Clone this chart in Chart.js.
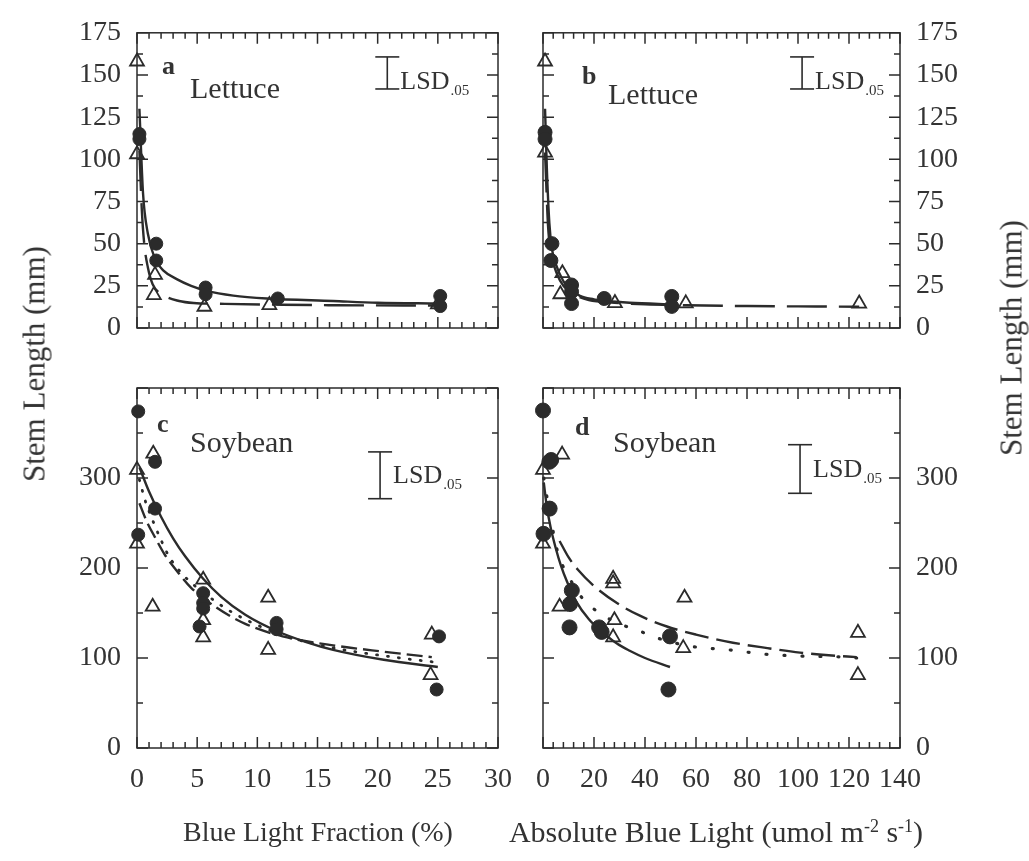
<!DOCTYPE html>
<html>
<head>
<meta charset="utf-8">
<title>Stem length vs blue light</title>
<script src="https://cdn.jsdelivr.net/npm/chart.js@4.4.1/dist/chart.umd.min.js"></script>
<style>
  body { margin: 0; background: #fff; }
  #wrap { position: relative; width: 1029px; height: 861px; overflow: hidden; background: #fff; }
  #wrap canvas { position: absolute; left: 0; top: 0; }
  .lbl { position: absolute; font-family: "Liberation Serif", serif; color: #333; white-space: nowrap; line-height: 1; }
  .rot { transform: translate(-50%, -50%) rotate(-90deg); font-size: 31px; }
  .hor { transform: translate(-50%, -50%); font-size: 28px; }
  sup { font-size: 60%; vertical-align: 0.55em; }
</style>
</head>
<body>
<div id="wrap">
  <canvas id="panelA" width="1029" height="861"></canvas>
  <canvas id="panelB" width="1029" height="861"></canvas>
  <canvas id="panelC" width="1029" height="861"></canvas>
  <canvas id="panelD" width="1029" height="861"></canvas>
  <div class="lbl rot" style="left:34px;top:364px">Stem Length (mm)</div>
  <div class="lbl rot" style="left:1011px;top:338px">Stem Length (mm)</div>
  <div class="lbl hor" style="left:318px;top:832px">Blue Light Fraction (%)</div>
  <div class="lbl hor" style="left:716px;top:832px;font-size:30px">Absolute Blue Light (umol m<sup>-2</sup> s<sup>-1</sup>)</div>
</div>
<script>
const INK = "#2b2b2b";
const TEXT = "#333";

// a: lettuce vs blue light fraction (%)
const letFracCircX = [0.2, 0.2, 1.6, 1.6, 5.7, 5.7, 11.7, 25.2, 25.2];
const letFracCircY = [115, 112, 50, 40, 24, 20, 17.5, 19, 13];
const letFracTriX = [0, 0, 1.5, 1.4, 5.6, 11, 25];
const letFracTriY = [158, 103, 31.5, 19.5, 12.6, 13.6, 14];
const letFracSolidX = [0.2, 0.5, 0.9, 1.5, 2.2, 3.3, 4.5, 5.8, 8, 10.8, 16.3, 20, 25];
const letFracSolidY = [130, 80, 56, 41, 34, 29, 25, 22, 19.2, 17.5, 16, 15, 14.5];
const letFracDashX = [0.2, 0.4, 0.6, 0.9, 1.3, 2.2, 3.5, 4.7, 7.3, 12, 16.5, 25];
const letFracDashY = [105, 70, 50, 36, 26, 19.5, 16, 14.8, 14.3, 13.8, 13.5, 13.3];

// b: lettuce vs absolute blue light
const letAbsCircX = [0.8, 0.8, 3.5, 3.1, 11.2, 11.2, 11.2, 24, 50.5, 50.5];
const letAbsCircY = [116, 112, 50, 40, 25.5, 21.5, 14.5, 17.5, 18.7, 12.8];
const letAbsTriX = [0.8, 0.8, 7.6, 6.8, 28.2, 56, 124];
const letAbsTriY = [158, 104, 32.5, 20, 14.8, 14.6, 14.5];
const letAbsSolidX = [0.8, 1.5, 2.5, 3.5, 5, 7.9, 10, 14.5, 20, 25, 34, 51];
const letAbsSolidY = [130, 95, 62, 47, 38, 28, 24, 19, 17, 16, 15, 14];
const letAbsDashX = [0.8, 2, 3.5, 5.5, 8, 12, 18, 28, 40, 56, 80, 100, 124];
const letAbsDashY = [104, 60, 42, 32, 25, 20, 16.5, 15, 14, 13.5, 13, 12.8, 12.6];

// c: soybean vs blue light fraction (%)
const soyFracCircX = [0.1, 1.5, 1.5, 0.1, 5.5, 5.5, 5.5, 5.2, 11.6, 11.6, 25.1, 24.9];
const soyFracCircY = [374, 318, 266, 237, 172, 161, 155, 135, 139, 132, 124, 65];
const soyFracTriX = [1.35, 0, 0, 1.3, 5.5, 5.5, 5.5, 10.9, 10.9, 24.5, 24.4];
const soyFracTriY = [327, 309, 227, 157, 187, 142, 123, 167, 109, 126, 81];
const soyFracSolidX = [0.2, 1, 2, 3, 4, 5.5, 7, 9, 11.6, 14, 16.3, 20.5, 25];
const soyFracSolidY = [312, 285, 257, 233, 213, 188, 168, 148, 130, 118, 109, 98, 90];
const soyFracDashX = [0.2, 0.8, 1.5, 2.3, 3.3, 4.5, 6.6, 9, 12.1, 16.3, 20.5, 24.5];
const soyFracDashY = [272, 252, 234, 215, 197, 178, 156, 138, 124, 114, 107, 101];
const soyFracDotX = [0.2, 0.7, 1.3, 2, 2.7, 4, 5.4, 8, 12, 16, 21.3, 25];
const soyFracDotY = [298, 274, 253, 231, 212, 190, 174, 150, 126, 112, 101, 95];

// d: soybean vs absolute blue light
const soyAbsCircX = [0, 2.5, 3.2, 2.6, 0.2, 11.3, 10.6, 10.4, 22, 23, 49.8, 49.2];
const soyAbsCircY = [375, 318, 320, 266, 238, 175, 160, 134, 134, 129, 124, 65];
const soyAbsTriX = [7.5, 0, 0, 6.5, 27.5, 27.5, 28, 27.5, 55.5, 55, 123.5, 123.5];
const soyAbsTriY = [326, 309, 227, 157, 188, 183, 142, 123, 167, 111, 128, 81];
const soyAbsSolidX = [0.3, 1.5, 3, 5, 7, 9.4, 13, 18, 22.4, 29, 34, 40, 49.8];
const soyAbsSolidY = [295, 268, 245, 222, 203, 185, 163, 143, 131, 116, 108, 100, 90];
const soyAbsDashX = [6.5, 10, 13.7, 20, 29, 38, 48.6, 60, 74.5, 88, 100.8, 112, 123];
const soyAbsDashY = [230, 212, 198, 180, 161, 147, 135, 126, 117, 111, 106, 103, 101];
const soyAbsDotX = [0.3, 3, 6, 9.4, 15, 21.6, 30, 37, 44, 58, 73, 88, 103, 119, 123];
const soyAbsDotY = [300, 255, 215, 194, 168, 151, 138, 131, 123, 113, 109, 104, 102, 101, 100];

// LSD(.05) bars: x position and the two ends
const lsdX = [20.8, 101.6, 20.2, 100.8];
const lsdLow = [141.7, 141.7, 277, 283];
const lsdHigh = [160.7, 160.7, 329, 337];

const pts = (xs, ys) => xs.map((x, i) => ({ x, y: ys[i] }));

Chart.defaults.font.family = "'Liberation Serif', 'Times New Roman', serif";
Chart.defaults.color = TEXT;

const isMajor = (v, step) => Math.abs(v / step - Math.round(v / step)) < 1e-6;

// box round each panel, inward ticks on all sides, panel texts
const framePlugin = {
  id: "frame",
  beforeDatasetsDraw(chart, args, o) {
    const { ctx, chartArea: a } = chart;
    const x = chart.scales.x, y = chart.scales.y;
    ctx.save();
    ctx.strokeStyle = INK;
    ctx.lineWidth = 1.5;
    ctx.strokeRect(a.left, a.top, a.right - a.left, a.bottom - a.top);
    ctx.beginPath();
    const xMajor = x.options.ticks.stepSize;
    for (let i = 0; x.min + i * o.xMinor <= x.max + 1e-9; i++) {
      const v = x.min + i * o.xMinor;
      const p = x.getPixelForValue(v);
      const len = isMajor(v, xMajor) ? 11 : 6;
      ctx.moveTo(p, a.bottom); ctx.lineTo(p, a.bottom - len);
      ctx.moveTo(p, a.top); ctx.lineTo(p, a.top + len);
    }
    const yMajor = y.options.ticks.stepSize;
    for (let i = 0; y.min + i * o.yMinor <= y.max + 1e-9; i++) {
      const v = y.min + i * o.yMinor;
      const p = y.getPixelForValue(v);
      const len = isMajor(v, yMajor) ? 11 : 6;
      ctx.moveTo(a.left, p); ctx.lineTo(a.left + len, p);
      ctx.moveTo(a.right, p); ctx.lineTo(a.right - len, p);
    }
    ctx.stroke();
    ctx.restore();
  },
  afterDraw(chart, args, o) {
    const { ctx, chartArea: a } = chart;
    ctx.save();
    ctx.fillStyle = TEXT;
    ctx.textBaseline = "alphabetic";
    ctx.font = "bold 26px 'Liberation Serif'";
    ctx.fillText(o.letter, a.left + o.letterAt[0], a.top + o.letterAt[1]);
    ctx.font = "30px 'Liberation Serif'";
    ctx.fillText(o.crop, a.left + o.cropAt[0], a.top + o.cropAt[1]);
    const idx = chart.data.datasets.findIndex(d => d.label === "LSD");
    const bar = chart.getDatasetMeta(idx).data;
    const lx = bar[0].x + 13;
    const ly = (bar[0].y + bar[1].y) / 2 + o.lsdDy;
    ctx.font = "26px 'Liberation Serif'";
    ctx.fillText("LSD", lx, ly);
    const w = ctx.measureText("LSD").width;
    ctx.font = "15px 'Liberation Serif'";
    ctx.fillText(".05", lx + w + 1, ly + 6);
    ctx.restore();
  }
};

function panelDatasets(circ, tri, r, curves, lsd) {
  const sets = [
    { data: circ, pointStyle: "circle", pointRadius: r, pointBackgroundColor: INK,
      pointBorderColor: INK, pointBorderWidth: 1, clip: false },
    { data: tri, pointStyle: "triangle", pointRadius: 8, pointBackgroundColor: "rgba(255,255,255,0)",
      pointBorderColor: INK, pointBorderWidth: 1.8, clip: false },
    { label: "LSD", data: lsd, showLine: true, borderColor: INK, borderWidth: 1.6,
      pointStyle: "line", pointRadius: 12, pointBorderColor: INK, pointBorderWidth: 1.6, clip: false }
  ];
  curves.forEach(c => sets.push({
    data: c.data, showLine: true, pointRadius: 0, borderColor: INK, borderWidth: c.width || 2.4,
    borderDash: c.dash || [], borderCapStyle: c.cap || "butt",
    cubicInterpolationMode: "monotone", clip: false
  }));
  return sets;
}

function makePanel(id, cfg) {
  const yScale = {
    type: "linear", position: cfg.yPos, min: 0, max: cfg.yMax,
    grid: { display: false, drawTicks: false }, border: { display: false },
    ticks: {
      stepSize: cfg.yStep, padding: 16, font: { size: 28 },
      callback: v => (v === cfg.yHide ? "" : v)
    },
    afterFit: s => { s.width = cfg.yPos === "left" ? 137 : 129; }
  };
  const xScale = {
    type: "linear", position: "bottom", min: 0, max: cfg.xMax, display: cfg.xShow,
    grid: { display: false, drawTicks: false }, border: { display: false },
    ticks: { stepSize: cfg.xStep, padding: 15, font: { size: 28 }, maxRotation: 0, autoSkip: false },
    afterFit: s => { s.height = 60; }
  };
  return new Chart(document.getElementById(id), {
    type: "scatter",
    data: { datasets: cfg.datasets },
    plugins: [framePlugin],
    options: {
      responsive: false,
      animation: false,
      layout: { padding: cfg.padding },
      scales: { x: xScale, y: yScale },
      plugins: {
        legend: { display: false },
        tooltip: { enabled: false },
        frame: cfg.frame
      }
    }
  });
}

const lettuceDash = [40, 12];

makePanel("panelA", {
  yPos: "left", yMax: 175, yStep: 25, xMax: 30, xStep: 5, xShow: false,
  padding: { left: 0, top: 27, right: 531, bottom: 473 },
  frame: { xMinor: 1, yMinor: 12.5, letter: "a", letterAt: [25, 41], crop: "Lettuce", cropAt: [53, 65], lsdDy: 16 },
  datasets: panelDatasets(pts(letFracCircX, letFracCircY), pts(letFracTriX, letFracTriY), 6.5, [
    { data: pts(letFracSolidX, letFracSolidY) },
    { data: pts(letFracDashX, letFracDashY), dash: lettuceDash }
  ], pts([lsdX[0], lsdX[0]], [lsdLow[0], lsdHigh[0]]))
});

makePanel("panelB", {
  yPos: "right", yMax: 175, yStep: 25, xMax: 140, xStep: 20, xShow: false,
  padding: { left: 543, top: 27, right: 0, bottom: 473 },
  frame: { xMinor: 4, yMinor: 12.5, letter: "b", letterAt: [39, 51], crop: "Lettuce", cropAt: [65, 71], lsdDy: 16 },
  datasets: panelDatasets(pts(letAbsCircX, letAbsCircY), pts(letAbsTriX, letAbsTriY), 7, [
    { data: pts(letAbsSolidX, letAbsSolidY) },
    { data: pts(letAbsDashX, letAbsDashY), dash: lettuceDash }
  ], pts([lsdX[1], lsdX[1]], [lsdLow[1], lsdHigh[1]]))
});

makePanel("panelC", {
  yPos: "left", yMax: 400, yStep: 100, yHide: 400, xMax: 30, xStep: 5, xShow: true,
  padding: { left: 0, top: 388, right: 531, bottom: 53 },
  frame: { xMinor: 1, yMinor: 50, letter: "c", letterAt: [20, 44], crop: "Soybean", cropAt: [53, 64], lsdDy: 8 },
  datasets: panelDatasets(pts(soyFracCircX, soyFracCircY), pts(soyFracTriX, soyFracTriY), 6.5, [
    { data: pts(soyFracSolidX, soyFracSolidY) },
    { data: pts(soyFracDashX, soyFracDashY), dash: [16, 6] },
    { data: pts(soyFracDotX, soyFracDotY), dash: [1, 10], cap: "round", width: 2.8 }
  ], pts([lsdX[2], lsdX[2]], [lsdLow[2], lsdHigh[2]]))
});

makePanel("panelD", {
  yPos: "right", yMax: 400, yStep: 100, yHide: 400, xMax: 140, xStep: 20, xShow: true,
  padding: { left: 543, top: 388, right: 0, bottom: 53 },
  frame: { xMinor: 4, yMinor: 50, letter: "d", letterAt: [32, 47], crop: "Soybean", cropAt: [70, 64], lsdDy: 8 },
  datasets: panelDatasets(pts(soyAbsCircX, soyAbsCircY), pts(soyAbsTriX, soyAbsTriY), 7.5, [
    { data: pts(soyAbsSolidX, soyAbsSolidY) },
    { data: pts(soyAbsDashX, soyAbsDashY), dash: [24, 8] },
    { data: pts(soyAbsDotX, soyAbsDotY), dash: [1, 17], cap: "round", width: 3.2 }
  ], pts([lsdX[3], lsdX[3]], [lsdLow[3], lsdHigh[3]]))
});
</script>
</body>
</html>
